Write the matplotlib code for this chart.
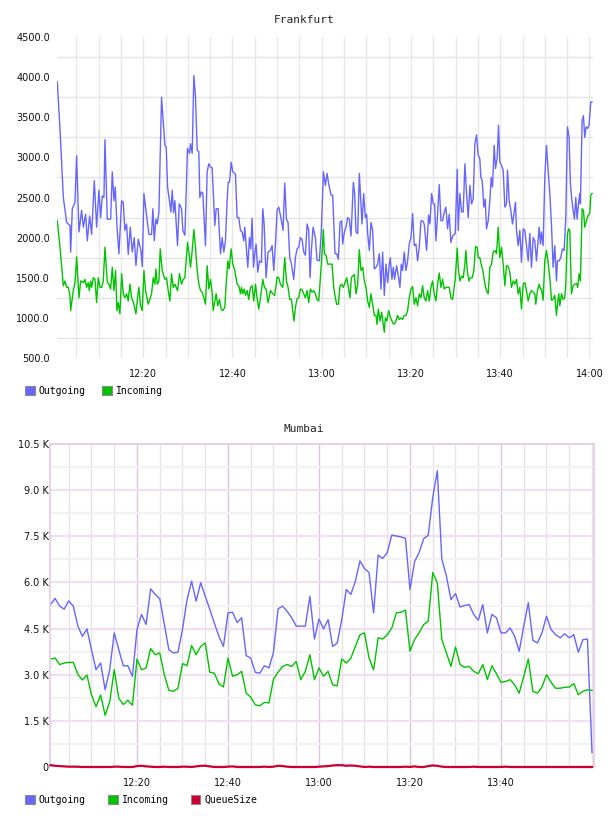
import matplotlib
matplotlib.use("Agg")
import matplotlib.pyplot as plt
from matplotlib.patches import Patch
from matplotlib.ticker import FuncFormatter, MultipleLocator, FixedLocator
import numpy as np

# Frankfurt: (minutes after 12:00, value)
frankfurt_out = [
    (0.74, 3940), (1.34, 3350), (2.09, 2500), (2.83, 2190), (3.58, 2150), (3.73, 1820), (4.10, 2360),
    (4.70, 2440), (5.07, 3020), (5.59, 2070), (6.19, 2340), (6.57, 2130), (7.09, 2290), (7.46, 1960),
    (7.98, 2270), (8.43, 2040), (9.03, 2710), (9.55, 2130), (10.07, 2590), (10.45, 2250), (10.82, 2520),
    (11.19, 2500), (11.42, 3220), (11.94, 2230), (12.69, 2230), (13.06, 2820), (13.43, 2460), (13.73, 2630),
    (14.10, 2150), (14.55, 1800), (15.15, 2460), (15.52, 2440), (15.89, 2090), (16.27, 2170), (16.64, 1790),
    (17.09, 2130), (17.53, 1820), (17.98, 2000), (18.36, 1650), (18.88, 1980), (19.48, 1840), (19.78, 1640),
    (20.15, 2550), (20.82, 2250), (21.27, 2040), (21.86, 2040), (22.16, 2360), (22.46, 1960), (22.83, 2230),
    (23.13, 2170), (23.51, 2320), (24.10, 3750), (24.85, 3150), (25.15, 3130), (25.45, 2630), (25.97, 2420),
    (26.19, 2320), (26.49, 2590), (26.79, 2310), (27.09, 2460), (27.68, 1900), (28.06, 2420), (28.58, 2360),
    (28.88, 2090), (29.33, 2030), (29.92, 3110), (30.37, 3050),
    (30.59, 3170), (30.97, 3050), (31.34, 4020), (31.71, 3750), (32.09, 3090), (32.46, 3070), (32.68, 2500),
    (33.06, 2570), (33.35, 2550), (33.95, 1900), (34.32, 2820), (34.70, 2920), (35.07, 2880), (35.44, 2870),
    (36.04, 2150), (36.34, 2360), (36.79, 2360), (37.31, 1800), (37.68, 2000), (38.06, 1820), (38.43, 1960),
    (38.80, 2460), (39.03, 2690), (39.33, 2690), (39.70, 2940), (40.07, 2820), (40.67, 2790), (41.04, 2250),
    (41.41, 2250), (41.79, 2090), (42.16, 2070), (42.53, 1960), (42.76, 2130), (43.06, 1900), (43.43, 1630),
    (43.80, 2000), (44.10, 1860), (44.40, 2240), (44.70, 1630), (44.99, 1800), (45.29, 1920), (45.67, 1570),
    (46.04, 1710), (46.49, 1690), (46.79, 2360), (47.09, 2170), (47.53, 1500), (47.98, 1820), (48.50, 1840),
    (48.88, 1900), (49.25, 1590), (49.62, 1920), (50.00, 2340), (50.37, 2380), (50.74, 2280), (51.34, 2090),
    (51.71, 2680), (52.09, 2230), (52.46, 2190), (52.83, 1750), (53.21, 1670), (53.73, 1480), (54.10, 1750),
    (54.48, 1860), (54.85, 1880), (55.22, 2000), (55.60, 1980), (55.97, 1820), (56.34, 1780), (56.72, 2170),
    (57.09, 2090), (57.39, 1500), (57.68, 1840), (58.06, 2130), (58.58, 2000), (58.95, 1720), (59.47, 1710),
    (59.92, 2090), (60.37, 2820),
    (60.82, 2650), (61.19, 2800), (61.56, 2670), (62.09, 2530), (62.46, 2530), (62.98, 1800), (63.35, 1800),
    (63.73, 1730), (64.10, 2190), (64.47, 2210), (64.70, 1920), (65.07, 2070), (65.44, 2130), (65.82, 2250),
    (66.19, 2230), (66.57, 2020), (67.09, 2690), (67.38, 2550), (67.68, 2070), (68.06, 2050), (68.43, 2800),
    (68.80, 2420), (69.03, 2170), (69.40, 2550), (69.77, 2250), (70.07, 2290), (70.30, 2050), (70.67, 1840),
    (71.04, 2190), (71.41, 2090), (71.79, 1610), (72.16, 1630), (72.53, 1670), (72.91, 1800), (73.28, 1360),
    (73.65, 1820), (74.03, 1280), (74.40, 1670), (74.77, 1440), (75.15, 1670), (75.37, 1750), (75.74, 1480),
    (76.04, 1630), (76.34, 1480), (76.79, 1650), (77.24, 1500), (77.53, 1380), (77.83, 1670), (78.13, 1590),
    (78.50, 1820), (78.88, 1590), (79.25, 1710), (79.62, 1920), (80.00, 2000), (80.37, 2300), (80.74, 1900),
    (81.12, 1920), (81.49, 1710), (81.86, 1880), (82.24, 2210), (82.61, 2210), (82.98, 2170), (83.51, 1840),
    (83.95, 2280), (84.25, 2170), (84.63, 2550), (85.00, 2420), (85.30, 2420), (85.60, 1960), (85.97, 2290),
    (86.34, 2660), (86.72, 2210), (87.09, 2210), (87.46, 2320), (87.83, 2380), (88.21, 2110), (88.58, 2290),
    (88.95, 1940), (89.33, 2020), (89.92, 2050), (90.37, 2850),
    (90.59, 2090), (90.97, 2550), (91.34, 2320), (91.71, 2320), (92.09, 2920), (92.46, 2550), (92.83, 2250),
    (93.21, 2650), (93.58, 2420), (93.95, 2480), (94.32, 3170), (94.70, 3280), (95.07, 3030), (95.44, 2980),
    (95.67, 2750), (95.97, 2710), (96.34, 2380), (96.64, 2480), (96.94, 2110), (97.31, 2210), (97.68, 2460),
    (97.98, 2750), (98.28, 2630), (98.65, 3150), (98.95, 2860), (99.33, 3000), (99.62, 3400), (99.92, 2940),
    (100.30, 2900), (100.67, 2840), (101.04, 2380), (101.41, 2420), (101.64, 2840), (102.01, 2460),
    (102.38, 2340), (102.76, 2170), (103.13, 2320), (103.43, 2440), (103.65, 2090), (104.03, 1900),
    (104.40, 2090), (104.77, 1690), (105.15, 2110), (105.52, 2090), (105.89, 1900), (106.27, 1710),
    (106.64, 2050), (107.01, 1630), (107.39, 2000), (107.76, 1960), (108.13, 1710), (108.50, 1960),
    (108.73, 2130), (109.03, 1920), (109.25, 2070), (109.62, 1900), (110.00, 2750), (110.37, 3150),
    (110.74, 2840), (111.12, 2550), (111.49, 2170), (111.86, 1630), (112.24, 1900), (112.61, 1460),
    (112.83, 1710), (113.21, 1710), (113.58, 1750), (113.95, 1860), (114.33, 1840), (114.70, 2250),
    (115.07, 3380), (115.44, 3250), (115.74, 2670), (116.04, 2480), (116.34, 2340), (116.64, 2230),
    (116.94, 2500), (117.24, 2230), (117.54, 2420), (117.83, 2550), (117.98, 2420), (118.36, 3460),
    (118.66, 3520), (118.95, 3250), (119.25, 3380), (119.55, 3360), (119.92, 3400), (120.30, 3690),
    (120.59, 3690),
]

frankfurt_in = [
    (0.74, 2210), (1.34, 1880), (2.09, 1400), (2.46, 1460), (2.83, 1380), (3.21, 1380), (3.58, 1270),
    (3.73, 1090), (4.32, 1340), (4.70, 1440), (5.07, 1760), (5.59, 1250), (5.97, 1460), (6.57, 1440),
    (6.94, 1480), (7.31, 1380), (7.68, 1440), (7.91, 1340), (8.21, 1460), (8.43, 1380), (8.80, 1500),
    (9.18, 1480), (9.55, 1190), (9.92, 1500), (10.30, 1380), (10.67, 1380), (11.04, 1460), (11.42, 1880),
    (11.94, 1440), (12.31, 1420), (12.69, 1360), (13.06, 1630), (13.43, 1340), (13.80, 1590), (14.10, 1090),
    (14.40, 1190), (14.77, 1050), (15.15, 1550), (15.52, 1300), (15.89, 1250), (16.27, 1300), (16.64, 1210),
    (17.01, 1420), (17.39, 1250), (17.83, 1190), (18.36, 1050), (18.73, 1250), (19.03, 1380), (19.40, 1150),
    (19.78, 1090), (20.15, 1590), (20.52, 1340), (21.12, 1170), (21.86, 1300), (22.24, 1500), (22.61, 1420),
    (22.83, 1610), (23.13, 1420), (23.51, 1460), (23.81, 1860), (24.25, 1590), (24.85, 1480), (25.22, 1500),
    (25.60, 1340), (25.97, 1210), (26.34, 1550), (26.72, 1380), (27.09, 1420), (27.68, 1340), (28.13, 1550),
    (28.58, 1420), (28.95, 1480), (29.33, 1500), (29.92, 1940), (30.37, 1750),
    (30.59, 1630), (30.97, 1840), (31.34, 2100), (31.71, 1880), (32.09, 1590), (32.46, 1420), (32.83, 1340),
    (33.21, 1320), (33.58, 1250), (33.95, 1170), (34.32, 1650), (34.70, 1360), (35.07, 1480), (35.44, 1320),
    (35.67, 1090), (36.04, 1210), (36.34, 1300), (36.71, 1150), (37.09, 1230), (37.46, 1110), (37.83, 1090),
    (38.28, 1130), (38.58, 1420), (38.95, 1710), (39.25, 1610), (39.70, 1860), (40.07, 1670), (40.52, 1590),
    (41.04, 1420), (41.41, 1400), (41.79, 1300), (42.01, 1380), (42.31, 1300), (42.61, 1360), (42.91, 1280),
    (43.28, 1340), (43.65, 1230), (44.03, 1380), (44.40, 1400), (44.77, 1210), (45.15, 1420), (45.52, 1250),
    (45.89, 1110), (46.27, 1250), (46.79, 1480), (47.16, 1380), (47.53, 1360), (47.98, 1190), (48.50, 1340),
    (49.03, 1300), (49.47, 1280), (50.00, 1510), (50.37, 1500), (50.74, 1420), (51.27, 1380), (51.71, 1750),
    (52.09, 1460), (52.46, 1380), (52.83, 1230), (53.21, 1230), (53.50, 1090), (53.80, 960), (54.10, 1130),
    (54.48, 1240), (54.85, 1250), (55.22, 1360), (55.60, 1350), (55.97, 1300), (56.34, 1250), (56.72, 1340),
    (57.09, 1190), (57.46, 1360), (57.83, 1320), (58.21, 1340), (58.58, 1300), (58.95, 1230), (59.33, 1210),
    (59.92, 1670), (60.37, 2100),
    (60.59, 1800), (60.97, 1780), (61.34, 1670), (61.71, 1670), (62.31, 1670), (62.68, 1380), (63.06, 1250),
    (63.35, 1170), (63.73, 1170), (64.10, 1400), (64.47, 1420), (64.85, 1380), (65.22, 1440), (65.59, 1500),
    (65.97, 1380), (66.34, 1250), (66.64, 1500), (66.94, 1520), (67.31, 1540), (67.68, 1300), (68.06, 1420),
    (68.43, 1850), (68.80, 1590), (69.18, 1630), (69.55, 1460), (69.92, 1380), (70.30, 1210), (70.67, 1130),
    (71.04, 1300), (71.41, 1170), (71.79, 1030), (72.16, 1030), (72.38, 920), (72.68, 1110), (73.06, 960),
    (73.43, 1070), (73.80, 920), (74.03, 820), (74.25, 1000), (74.62, 960), (75.00, 1090), (75.37, 1010),
    (75.74, 960), (76.12, 920), (76.49, 940), (77.01, 1030), (77.39, 980), (77.76, 1000), (78.13, 980),
    (78.50, 1030), (78.88, 1030), (79.25, 1090), (79.62, 1250), (80.00, 1360), (80.37, 1390), (80.74, 1170),
    (81.12, 1250), (81.49, 1150), (81.86, 1300), (82.24, 1250), (82.61, 1400), (82.98, 1250), (83.36, 1210),
    (83.73, 1340), (84.10, 1210), (84.48, 1380), (84.85, 1460), (85.22, 1300), (85.60, 1210), (85.97, 1420),
    (86.34, 1560), (86.72, 1380), (87.09, 1480), (87.46, 1360), (87.83, 1380), (88.21, 1380), (88.58, 1380),
    (88.95, 1250), (89.33, 1230), (89.92, 1480), (90.37, 1870),
    (90.59, 1630), (90.97, 1460), (91.34, 1520), (91.71, 1500), (92.09, 1670), (92.31, 1840), (92.61, 1590),
    (92.98, 1460), (93.35, 1500), (93.73, 1500), (94.10, 1590), (94.47, 1890), (94.85, 1880), (95.07, 1750),
    (95.44, 1750), (95.82, 1650), (96.19, 1570), (96.57, 1420), (96.94, 1340), (97.31, 1300), (97.68, 1630),
    (98.06, 1670), (98.43, 1820), (98.80, 1840), (99.18, 1800), (99.55, 2130), (99.92, 1750), (100.30, 1880),
    (100.67, 1670), (101.04, 1400), (101.41, 1650), (101.79, 1640), (102.16, 1570), (102.53, 1380),
    (102.91, 1460), (103.28, 1420), (103.65, 1480), (104.03, 1300), (104.40, 1380), (104.77, 1110),
    (105.15, 1420), (105.52, 1440), (105.89, 1340), (106.27, 1210), (106.64, 1300), (107.01, 1340),
    (107.39, 1320), (107.76, 1300), (107.98, 1170), (108.36, 1340), (108.73, 1420), (109.03, 1360),
    (109.25, 1360), (109.62, 1220), (110.00, 1710), (110.37, 1840), (110.74, 1690), (111.12, 1500),
    (111.49, 1220), (111.86, 1230), (112.24, 1280), (112.61, 1030), (112.83, 1170), (113.13, 1300),
    (113.36, 1150), (113.73, 1300), (114.10, 1230), (114.48, 1250), (114.70, 1420), (115.07, 2050),
    (115.37, 2110), (115.60, 2090), (115.97, 1300), (116.34, 1400), (116.72, 1420), (117.09, 1430),
    (117.39, 1380), (117.68, 1550), (117.98, 1460), (118.36, 2360), (118.66, 2340), (118.95, 2130),
    (119.33, 2210), (119.70, 2280), (120.07, 2300), (120.30, 2530), (120.59, 2550),
]

# Mumbai: one sample per minute, 12:01 .. 14:00
mumbai_minutes = list(range(1, 121))
mumbai_out = [
    5280, 5480, 5230, 5130, 5400, 5230, 4580, 4250, 4490, 3810,
    3160, 3380, 2510, 3160, 4360, 3810, 3290, 3290, 2950, 4470,
    4960, 4630, 5790, 5610, 5470, 4650, 3810, 3710, 3730, 4470,
    5440, 6040, 5390, 5990, 5550, 5120, 4680, 4250, 3920, 5010,
    5030, 4700, 4850, 3620, 3540, 3080, 3050, 3290, 3220, 3730,
    5140, 5230, 5060, 4850, 4580, 4580, 4580, 5550, 4160, 4810,
    4490, 4790, 3920, 4030, 4790, 5770, 5610, 6040, 6700, 6450,
    6320, 5010, 6890, 6780, 6970, 7540, 7510, 7480, 7430, 5770,
    6670, 6970, 7420, 7530, 8760, 9630, 6750, 6210, 5440, 5640,
    5200, 5250, 5280, 4960, 4770, 5280, 4360, 4960, 4850, 4360,
    4360, 4520, 4250, 3760, 4580, 5340, 4120, 4030, 4360, 4900,
    4470, 4300, 4200, 4330, 4200, 4300, 3730, 4140, 4160, 470,
]
mumbai_in = [
    3510, 3540, 3330, 3380, 3400, 3400, 3010, 2830, 2990, 2340,
    1960, 2340, 1680, 2120, 3160, 2230, 2030, 2170, 2010, 3510,
    3160, 3220, 3850, 3650, 3710, 3000, 2490, 2460, 2560, 3360,
    3290, 3950, 3650, 3920, 4030, 3080, 3050, 2710, 2600, 3540,
    2950, 3000, 3110, 2400, 2270, 2020, 1990, 2100, 2080, 2860,
    3080, 3270, 3330, 3270, 3430, 2840, 3110, 3650, 2840, 3220,
    2950, 3110, 2670, 2640, 3510, 3380, 3540, 3920, 4300, 4360,
    3540, 3160, 4200, 4160, 4300, 4520, 5010, 5030, 5100, 3760,
    4140, 4360, 4630, 4740, 6320, 5990, 4140, 3710, 3270, 3900,
    3330, 3240, 3270, 3110, 3030, 3330, 2840, 3290, 3030, 2750,
    2780, 2840, 2670, 2400, 2950, 3510, 2460, 2400, 2600, 3000,
    2750, 2560, 2560, 2590, 2600, 2710, 2350, 2460, 2510, 2490,
]
mumbai_queue = [
    60, 40, 30, 20, 10, 10, 10, 0, 0, 0,
    0, 0, 0, 0, 10, 10, 0, 0, 0, 30,
    40, 20, 10, 0, 0, 10, 0, 0, 0, 10,
    10, 0, 20, 40, 40, 20, 0, 0, 0, 10,
    20, 0, 0, 0, 0, 0, 0, 10, 0, 10,
    40, 30, 10, 0, 0, 0, 0, 0, 0, 10,
    20, 30, 50, 60, 60, 40, 50, 40, 20, 0,
    10, 0, 0, 0, 0, 0, 0, 0, 10, 0,
    20, 0, 0, 30, 50, 40, 10, 0, 0, 0,
    0, 0, 0, 10, 0, 0, 0, 0, 0, 0,
    10, 0, 0, 0, 0, 0, 0, 0, 0, 0,
    0, 0, 0, 0, 0, 0, 0, 0, 0, 0,
]

BLUE = '#6666FF'
GREEN = '#00C400'
RED = '#CC0033'
MONO = 'DejaVu Sans Mono'


def hhmm(m, pos=None):
    m = int(round(m))
    return '%d:%02d' % (12 + m // 60, m % 60)


def legend(fig, items, y_px, spacing):
    handles = [Patch(facecolor=c, edgecolor='#8a8a8a', linewidth=0.8, label=l) for l, c in items]
    fig.legend(handles=handles, loc='center left', bbox_to_anchor=(25 / 608, 1 - y_px / 816),
               ncol=len(items), frameon=False, borderpad=0, borderaxespad=0,
               handlelength=1.0, handleheight=1.0, handletextpad=0.42, columnspacing=spacing,
               prop={'family': MONO, 'size': 7})


fig = plt.figure(figsize=(6.08, 8.16), dpi=100)

# ---- Frankfurt
ax1 = fig.add_axes([57 / 608, 1 - 358 / 816, 536 / 608, 321 / 816])
t, v = zip(*frankfurt_out)
ax1.plot(t, v, color=BLUE, lw=1.0)
t, v = zip(*frankfurt_in)
ax1.plot(t, v, color=GREEN, lw=1.0)
ax1.set_xlim(0.67, 120.8)
ax1.set_ylim(500, 4500)
ax1.yaxis.set_major_locator(MultipleLocator(500))
ax1.yaxis.set_minor_locator(FixedLocator(np.arange(750, 4500, 500)))
ax1.yaxis.set_major_formatter(FuncFormatter(lambda y, p: '%.1f' % y))
ax1.xaxis.set_major_locator(MultipleLocator(20))
ax1.xaxis.set_minor_locator(MultipleLocator(5))
ax1.xaxis.set_major_formatter(FuncFormatter(hhmm))
ax1.grid(axis='y', which='minor', color='#E4E4E4', lw=1.0)
ax1.grid(axis='x', which='both', color='#E8E8E8', lw=1.0)
for s in ax1.spines.values():
    s.set_visible(False)
ax1.tick_params(which='both', length=0, labelsize=7, colors='#111111')
ax1.tick_params(axis='x', pad=8)
ax1.tick_params(axis='y', pad=5)
ax1.set_axisbelow(True)
fig.text(0.5, 1 - 20 / 816, 'Frankfurt', ha='center', va='center', family=MONO, size=8, color='#222222')
legend(fig, [('Outgoing', BLUE), ('Incoming', GREEN)], 391, 1.65)

# ---- Mumbai
ax2 = fig.add_axes([50 / 608, 1 - 767 / 816, 544 / 608, 323 / 816])
ax2.plot(mumbai_minutes, mumbai_out, color=BLUE, lw=1.0)
ax2.plot(mumbai_minutes, mumbai_in, color=GREEN, lw=1.0)
ax2.plot(mumbai_minutes, mumbai_queue, color=RED, lw=1.6, clip_on=False, zorder=4)
ax2.set_xlim(0.88, 120.44)
ax2.set_ylim(0, 10500)
ax2.yaxis.set_major_locator(MultipleLocator(1500))
ax2.yaxis.set_minor_locator(FixedLocator(np.arange(750, 10500, 1500)))
ax2.yaxis.set_major_formatter(FuncFormatter(lambda y, p: '0' if y == 0 else '%.1f K' % (y / 1000)))
ax2.xaxis.set_major_locator(FixedLocator([20, 40, 60, 80, 100]))
ax2.xaxis.set_minor_locator(MultipleLocator(5))
ax2.xaxis.set_major_formatter(FuncFormatter(hhmm))
ax2.grid(axis='y', which='major', color='#F0E0F0', lw=1.6)
ax2.grid(axis='y', which='minor', color='#F2F2F2', lw=1.6)
ax2.grid(axis='x', which='major', color='#DCC4DC', lw=1.0)
ax2.grid(axis='x', which='minor', color='#E8E2E8', lw=1.0)
for s in ax2.spines.values():
    s.set_color('#E2CCE2')
    s.set_linewidth(1.2)
ax2.spines['bottom'].set_visible(False)
ax2.tick_params(which='both', length=0, labelsize=7, colors='#111111')
ax2.tick_params(axis='x', pad=8)
ax2.tick_params(axis='y', pad=1)
ax2.set_axisbelow(True)
fig.text(0.5, 1 - 429 / 816, 'Mumbai', ha='center', va='center', family=MONO, size=8, color='#222222')
legend(fig, [('Outgoing', BLUE), ('Incoming', GREEN), ('QueueSize', RED)], 800, 2.26)

fig.savefig('out.png', dpi=100)
